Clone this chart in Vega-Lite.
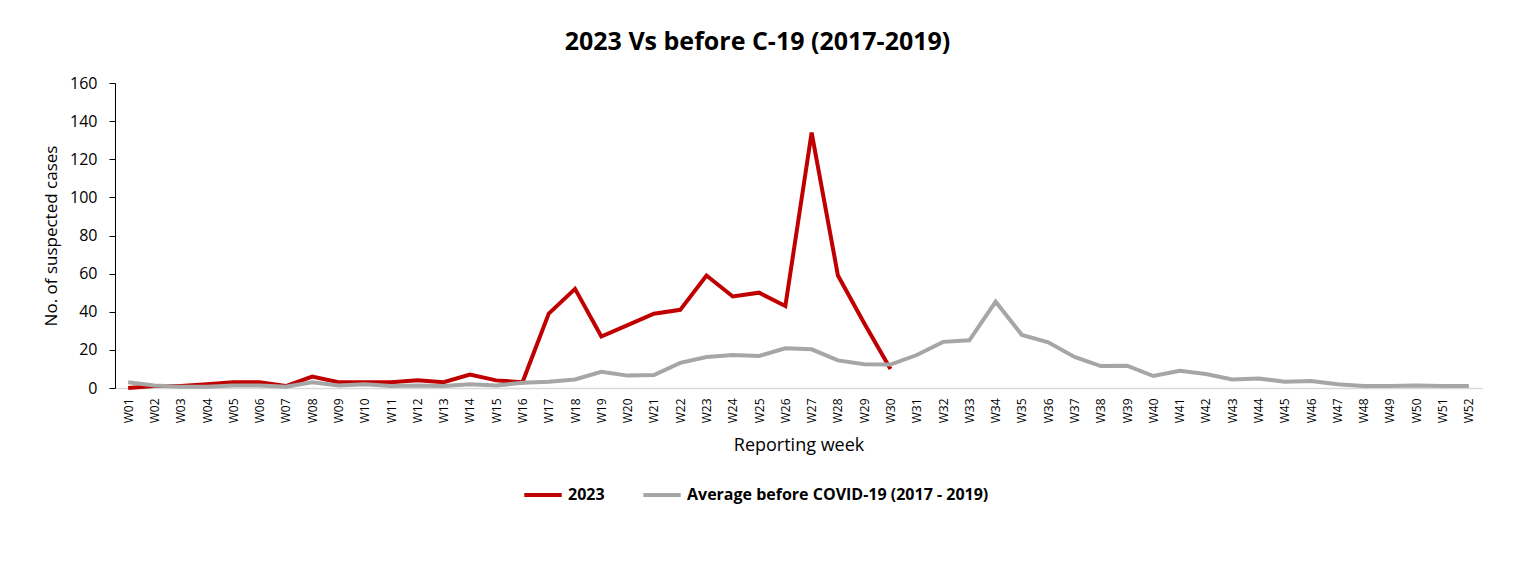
{
  "$schema": "https://vega.github.io/schema/vega-lite/v6.json",
  "autosize": {"type": "none"},
  "width": 1367,
  "height": 305,
  "padding": {"left": 115, "top": 83, "right": 31, "bottom": 181},
  "background": "white",
  "config": {
    "font": "Open Sans",
    "view": {"stroke": null}
  },
  "title": {
    "text": "2023 Vs before C-19 (2017-2019)",
    "font": "Open Sans",
    "fontSize": 25,
    "fontWeight": "bold",
    "color": "#000000",
    "anchor": "middle",
    "dx": -41,
    "offset": 20
  },
  "data": {
    "values": [
      {"week": "W01", "series": "2023", "value": 0},
      {"week": "W02", "series": "2023", "value": 1},
      {"week": "W03", "series": "2023", "value": 1},
      {"week": "W04", "series": "2023", "value": 2},
      {"week": "W05", "series": "2023", "value": 3},
      {"week": "W06", "series": "2023", "value": 3},
      {"week": "W07", "series": "2023", "value": 1},
      {"week": "W08", "series": "2023", "value": 6},
      {"week": "W09", "series": "2023", "value": 3},
      {"week": "W10", "series": "2023", "value": 3},
      {"week": "W11", "series": "2023", "value": 3},
      {"week": "W12", "series": "2023", "value": 4},
      {"week": "W13", "series": "2023", "value": 3},
      {"week": "W14", "series": "2023", "value": 7},
      {"week": "W15", "series": "2023", "value": 4},
      {"week": "W16", "series": "2023", "value": 3},
      {"week": "W17", "series": "2023", "value": 39},
      {"week": "W18", "series": "2023", "value": 52},
      {"week": "W19", "series": "2023", "value": 27},
      {"week": "W20", "series": "2023", "value": 33},
      {"week": "W21", "series": "2023", "value": 39},
      {"week": "W22", "series": "2023", "value": 41},
      {"week": "W23", "series": "2023", "value": 59},
      {"week": "W24", "series": "2023", "value": 48},
      {"week": "W25", "series": "2023", "value": 50},
      {"week": "W26", "series": "2023", "value": 43},
      {"week": "W27", "series": "2023", "value": 134},
      {"week": "W28", "series": "2023", "value": 59},
      {"week": "W29", "series": "2023", "value": 34},
      {"week": "W30", "series": "2023", "value": 10},
      {"week": "W01", "series": "Average before COVID-19 (2017 - 2019)", "value": 3},
      {"week": "W02", "series": "Average before COVID-19 (2017 - 2019)", "value": 1.3},
      {"week": "W03", "series": "Average before COVID-19 (2017 - 2019)", "value": 0.7},
      {"week": "W04", "series": "Average before COVID-19 (2017 - 2019)", "value": 0.7},
      {"week": "W05", "series": "Average before COVID-19 (2017 - 2019)", "value": 1.3},
      {"week": "W06", "series": "Average before COVID-19 (2017 - 2019)", "value": 1.3},
      {"week": "W07", "series": "Average before COVID-19 (2017 - 2019)", "value": 0.7},
      {"week": "W08", "series": "Average before COVID-19 (2017 - 2019)", "value": 3},
      {"week": "W09", "series": "Average before COVID-19 (2017 - 2019)", "value": 1.3},
      {"week": "W10", "series": "Average before COVID-19 (2017 - 2019)", "value": 2},
      {"week": "W11", "series": "Average before COVID-19 (2017 - 2019)", "value": 1},
      {"week": "W12", "series": "Average before COVID-19 (2017 - 2019)", "value": 1.3},
      {"week": "W13", "series": "Average before COVID-19 (2017 - 2019)", "value": 1},
      {"week": "W14", "series": "Average before COVID-19 (2017 - 2019)", "value": 2},
      {"week": "W15", "series": "Average before COVID-19 (2017 - 2019)", "value": 1.3},
      {"week": "W16", "series": "Average before COVID-19 (2017 - 2019)", "value": 2.7},
      {"week": "W17", "series": "Average before COVID-19 (2017 - 2019)", "value": 3.3},
      {"week": "W18", "series": "Average before COVID-19 (2017 - 2019)", "value": 4.5},
      {"week": "W19", "series": "Average before COVID-19 (2017 - 2019)", "value": 8.5},
      {"week": "W20", "series": "Average before COVID-19 (2017 - 2019)", "value": 6.5},
      {"week": "W21", "series": "Average before COVID-19 (2017 - 2019)", "value": 6.8},
      {"week": "W22", "series": "Average before COVID-19 (2017 - 2019)", "value": 13.2},
      {"week": "W23", "series": "Average before COVID-19 (2017 - 2019)", "value": 16.3},
      {"week": "W24", "series": "Average before COVID-19 (2017 - 2019)", "value": 17.3},
      {"week": "W25", "series": "Average before COVID-19 (2017 - 2019)", "value": 16.8},
      {"week": "W26", "series": "Average before COVID-19 (2017 - 2019)", "value": 20.8},
      {"week": "W27", "series": "Average before COVID-19 (2017 - 2019)", "value": 20.3},
      {"week": "W28", "series": "Average before COVID-19 (2017 - 2019)", "value": 14.5},
      {"week": "W29", "series": "Average before COVID-19 (2017 - 2019)", "value": 12.5},
      {"week": "W30", "series": "Average before COVID-19 (2017 - 2019)", "value": 12.3},
      {"week": "W31", "series": "Average before COVID-19 (2017 - 2019)", "value": 17.3},
      {"week": "W32", "series": "Average before COVID-19 (2017 - 2019)", "value": 24.2},
      {"week": "W33", "series": "Average before COVID-19 (2017 - 2019)", "value": 25},
      {"week": "W34", "series": "Average before COVID-19 (2017 - 2019)", "value": 45.3},
      {"week": "W35", "series": "Average before COVID-19 (2017 - 2019)", "value": 27.8},
      {"week": "W36", "series": "Average before COVID-19 (2017 - 2019)", "value": 24},
      {"week": "W37", "series": "Average before COVID-19 (2017 - 2019)", "value": 16.3},
      {"week": "W38", "series": "Average before COVID-19 (2017 - 2019)", "value": 11.5},
      {"week": "W39", "series": "Average before COVID-19 (2017 - 2019)", "value": 11.7},
      {"week": "W40", "series": "Average before COVID-19 (2017 - 2019)", "value": 6.3},
      {"week": "W41", "series": "Average before COVID-19 (2017 - 2019)", "value": 9},
      {"week": "W42", "series": "Average before COVID-19 (2017 - 2019)", "value": 7.3},
      {"week": "W43", "series": "Average before COVID-19 (2017 - 2019)", "value": 4.5},
      {"week": "W44", "series": "Average before COVID-19 (2017 - 2019)", "value": 5},
      {"week": "W45", "series": "Average before COVID-19 (2017 - 2019)", "value": 3.3},
      {"week": "W46", "series": "Average before COVID-19 (2017 - 2019)", "value": 3.7},
      {"week": "W47", "series": "Average before COVID-19 (2017 - 2019)", "value": 2},
      {"week": "W48", "series": "Average before COVID-19 (2017 - 2019)", "value": 1},
      {"week": "W49", "series": "Average before COVID-19 (2017 - 2019)", "value": 1},
      {"week": "W50", "series": "Average before COVID-19 (2017 - 2019)", "value": 1.3},
      {"week": "W51", "series": "Average before COVID-19 (2017 - 2019)", "value": 1},
      {"week": "W52", "series": "Average before COVID-19 (2017 - 2019)", "value": 1}
    ]
  },
  "mark": {"type": "line", "strokeWidth": 4, "strokeJoin": "miter", "strokeCap": "butt"},
  "encoding": {
    "x": {
      "field": "week",
      "type": "ordinal",
      "scale": {"padding": 0.5},
      "axis": {
        "title": "Reporting week",
        "titleFont": "Open Sans",
        "titleFontSize": 18,
        "titleFontWeight": "normal",
        "titleColor": "#000000",
        "titlePadding": 14,
        "labelAngle": -90,
        "labelFont": "Open Sans",
        "labelFontSize": 12,
        "labelColor": "#000000",
        "labelPadding": 10,
        "ticks": false,
        "domainColor": "#d9d9d9",
        "domainWidth": 1.5,
        "grid": false
      }
    },
    "y": {
      "field": "value",
      "type": "quantitative",
      "scale": {"domain": [0, 160], "nice": false},
      "axis": {
        "values": [0, 20, 40, 60, 80, 100, 120, 140, 160],
        "title": "No. of suspected cases",
        "titleFont": "Open Sans",
        "titleFontSize": 17,
        "titleFontWeight": "normal",
        "titleColor": "#000000",
        "titlePadding": 9,
        "labelFont": "Open Sans",
        "labelFontSize": 16,
        "labelColor": "#000000",
        "labelPadding": 12,
        "tickColor": "#000000",
        "tickSize": 6,
        "domainColor": "#000000",
        "grid": false
      }
    },
    "color": {
      "field": "series",
      "type": "nominal",
      "scale": {
        "domain": ["2023", "Average before COVID-19 (2017 - 2019)"],
        "range": ["#c00000", "#a6a6a6"]
      },
      "legend": {
        "title": null,
        "orient": "none",
        "legendX": 407,
        "legendY": 391,
        "direction": "horizontal",
        "symbolType": "stroke",
        "symbolSize": 1400,
        "symbolStrokeWidth": 4,
        "labelFont": "Open Sans",
        "labelFontSize": 16,
        "labelFontWeight": "bold",
        "labelColor": "#000000",
        "labelOffset": 4,
        "labelLimit": 0,
        "columnPadding": 30
      }
    }
  }
}
